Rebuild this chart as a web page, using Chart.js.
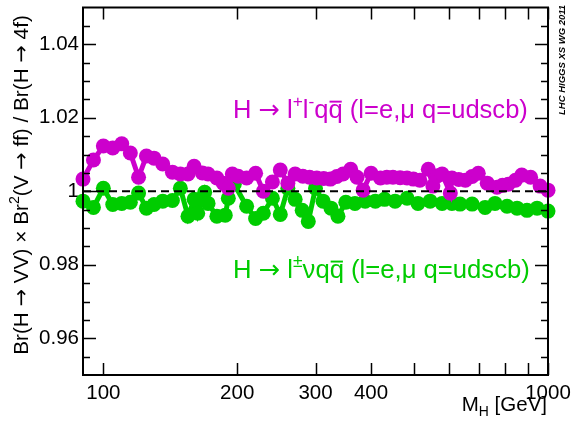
<!DOCTYPE html>
<html><head><meta charset="utf-8">
<script src="https://cdn.jsdelivr.net/npm/chart.js@4"></script>
<style>html,body{margin:0;padding:0;background:#fff}</style>
</head><body>
<div style="width:573px;height:438px"><canvas id="c" width="573" height="438"></canvas></div>
<script>
// H -> l+l- q qbar
const massLL = [90,95,100,105,110,115,120,125,130,136,143,149,155,160,167,172,180,186,191,195,201,210,220,229,240,250,260,270,281,291,302,313,324,335,346,360,372,384,400,420,434,448,465,482,498,515,538,551,565,578,603,608,630,652,675,697,730,768,790,814,845,873,914,960,1000];
const ratioLL = [1.0033,1.0085,1.0123,1.0118,1.0129,1.0104,1.0038,1.0096,1.0090,1.0074,1.0052,1.0047,1.0047,1.0068,1.0050,1.0047,1.0036,1.0022,1.0008,1.0047,1.0041,1.0036,1.0049,1.0000,1.0025,1.0058,1.0022,1.0047,1.0041,1.0038,1.0036,1.0035,1.0033,1.0040,1.0047,1.0060,1.0038,1.0003,1.0049,1.0036,1.0038,1.0038,1.0037,1.0036,1.0033,1.0030,1.0060,1.0014,1.0042,1.0047,0.9995,1.0036,1.0032,1.0030,1.0040,1.0049,1.0022,1.0011,1.0016,1.0019,1.0030,1.0044,1.0038,1.0014,1.0003];
// H -> l nu q qbar
const massLNu = [90,95,100,105,110,115,120,125,130,136,143,149,155,160,163,169,172,180,188,191,197,210,220,229,240,250,260,270,280,289,300,312,325,337,351,368,388,409,429,453,482,510,543,578,608,634,675,722,760,809,852,897,945,1000];
const ratioLNu = [0.9973,0.9956,1.0008,0.9964,0.9967,0.9970,0.9995,0.9954,0.9964,0.9973,0.9975,1.0008,0.9932,0.9978,0.9940,0.9997,0.9967,0.9932,0.9935,0.9981,1.0019,0.9959,0.9926,0.9940,0.9981,0.9937,1.0008,0.9978,0.9948,0.9918,1.0008,0.9973,0.9954,0.9932,0.9970,0.9967,0.9973,0.9973,0.9978,0.9973,0.9981,0.9967,0.9973,0.9967,0.9967,0.9965,0.9965,0.9956,0.9967,0.9959,0.9954,0.9948,0.9954,0.9946];

const xTickLabels = [100,200,300,400,1000];
const xAllTicks = [100,200,300,400,500,600,700,800,900,1000];
const yTickValues = [0.96,0.98,1,1.02,1.04];

const MAG = '#cc00cc', GRN = '#00cc00';
const FONT = '"Liberation Sans", Arial, Helvetica, sans-serif';
const ARROWFONT = '"DejaVu Sans", sans-serif';

function toXY(xs, ys){ return xs.map((m,i)=>({x:m, y:ys[i]})); }

function segFont(s, size){
  const fs = s.sup||s.sub ? size*0.68 : size;
  return fs+'px '+(s.arrow?ARROWFONT:FONT);
}
function measureRich(ctx, segs, size){
  let w=0;
  for(const s of segs){ ctx.font = segFont(s,size); w += ctx.measureText(s.t).width; }
  return w;
}
function drawRich(ctx, segs, x, y, size, color){
  ctx.fillStyle=color; ctx.strokeStyle=color;
  ctx.textAlign='left'; ctx.textBaseline='alphabetic';
  let cx=x;
  for(const s of segs){
    ctx.font = segFont(s,size);
    let yy=y;
    if(s.sup) yy = y - size*0.42;
    if(s.sub) yy = y + size*0.22;
    ctx.fillText(s.t, cx, yy);
    const w = ctx.measureText(s.t).width;
    if(s.bar){
      ctx.lineWidth = size*0.075;
      ctx.beginPath(); ctx.moveTo(cx+1, y-size*0.64); ctx.lineTo(cx+w-1, y-size*0.64); ctx.stroke();
    }
    cx += w;
  }
}

const decor = {
  id:'decor',
  afterDatasetsDraw(chart){
    const ctx=chart.ctx, a=chart.chartArea, ys=chart.scales.y;
    ctx.save();
    const y1 = ys.getPixelForValue(1);
    ctx.strokeStyle='#000'; ctx.lineWidth=2; ctx.setLineDash([8,5]);
    ctx.beginPath(); ctx.moveTo(a.left,y1); ctx.lineTo(a.right,y1); ctx.stroke();
    ctx.setLineDash([]);
    ctx.restore();
  },
  afterDraw(chart){
    const ctx=chart.ctx, a=chart.chartArea, xs=chart.scales.x, ys=chart.scales.y;
    ctx.save();
    ctx.strokeStyle='#000'; ctx.lineWidth=2;
    ctx.strokeRect(a.left, a.top, a.right-a.left, a.bottom-a.top);
    ctx.lineWidth=1.5;
    for(const v of xAllTicks){
      const px = Math.round(xs.getPixelForValue(v))+0.5;
      ctx.beginPath();
      ctx.moveTo(px,a.bottom); ctx.lineTo(px,a.bottom-12);
      ctx.moveTo(px,a.top); ctx.lineTo(px,a.top+12);
      ctx.stroke();
    }
    for(let k=1;k<20;k++){
      const v = 0.95 + k*0.005;
      const major = (k%4===2);
      const len = major?13:7;
      const py = Math.round(ys.getPixelForValue(v))+0.5;
      ctx.beginPath();
      ctx.moveTo(a.left,py); ctx.lineTo(a.left+len,py);
      ctx.moveTo(a.right,py); ctx.lineTo(a.right-len,py);
      ctx.stroke();
    }
    // annotations
    const s1=[{t:'H '},{t:'→',arrow:1},{t:' l'},{t:'+',sup:1},{t:'l'},{t:'-',sup:1},{t:'q'},{t:'q',bar:1},{t:' (l=e,μ q=udscb)'}];
    const s2=[{t:'H '},{t:'→',arrow:1},{t:' l'},{t:'±',sup:1},{t:'νq'},{t:'q',bar:1},{t:' (l=e,μ q=udscb)'}];
    // fit to reference widths
    let sz1 = 22*295/measureRich(ctx,s1,22);
    let sz2 = 22*297/measureRich(ctx,s2,22);
    drawRich(ctx,s1,233,118,sz1,MAG);
    drawRich(ctx,s2,233,278,sz2,GRN);
    // x title
    const xt=[{t:'M'},{t:'H',sub:1},{t:' [GeV]'}];
    const wx = measureRich(ctx,xt,20.5);
    drawRich(ctx,xt,547-wx,411,20.5,'#000');
    // y title
    const yt=[{t:'Br(H '},{t:'→',arrow:1},{t:' VV) × Br'},{t:'2',sup:1},{t:'(V '},{t:'→',arrow:1},{t:' ff) / Br(H '},{t:'→',arrow:1},{t:' 4f)'}];
    let szy = 20*340/measureRich(ctx,yt,20);
    const wy = measureRich(ctx,yt,szy);
    ctx.translate(28,185); ctx.rotate(-Math.PI/2);
    drawRich(ctx,yt,-wy/2,0,szy,'#000');
    ctx.setTransform(1,0,0,1,0,0);
    // LHC label
    ctx.translate(565,115); ctx.rotate(-Math.PI/2);
    ctx.font='italic bold 9.5px '+FONT; ctx.fillStyle='#000';
    ctx.textAlign='left'; ctx.textBaseline='alphabetic';
    ctx.fillText('LHC HIGGS XS WG 2011',0,0);
    ctx.restore();
  }
};

new Chart(document.getElementById('c'),{
  type:'line',
  data:{datasets:[
    {data:toXY(massLL,ratioLL), borderColor:MAG, backgroundColor:MAG, pointBackgroundColor:MAG, pointBorderColor:MAG, borderWidth:5, pointRadius:7.5, pointBorderWidth:0, tension:0, clip:false},
    {data:toXY(massLNu,ratioLNu), borderColor:GRN, backgroundColor:GRN, pointBackgroundColor:GRN, pointBorderColor:GRN, borderWidth:5, pointRadius:7.5, pointBorderWidth:0, tension:0, clip:false}
  ]},
  options:{
    responsive:false, animation:false, devicePixelRatio:1,
    layout:{padding:{top:5,right:25,left:0,bottom:0}},
    plugins:{legend:{display:false},tooltip:{enabled:false}},
    scales:{
      x:{type:'logarithmic', min:90, max:1000,
        afterBuildTicks(s){ s.ticks = xTickLabels.map(v=>({value:v})); },
        afterFit(s){ s.height=63; s.paddingLeft=0; s.paddingRight=0; },
        grid:{display:false, drawTicks:false}, border:{display:false},
        ticks:{autoSkip:false, maxRotation:0, padding:6, color:'#000', font:{family:FONT,size:20.5}, callback:(v)=>String(v)}
      },
      y:{min:0.95, max:1.05,
        afterBuildTicks(s){ s.ticks = yTickValues.map(v=>({value:v})); },
        afterFit(s){ s.width=83; s.paddingTop=0; s.paddingBottom=0; },
        grid:{display:false, drawTicks:false}, border:{display:false},
        ticks:{padding:4, color:'#000', font:{family:FONT,size:20.5}, callback:(v)=> Math.abs(v-1)<1e-9 ? '1' : v.toFixed(2)}
      }
    }
  },
  plugins:[decor]
});
</script>
</body></html>
